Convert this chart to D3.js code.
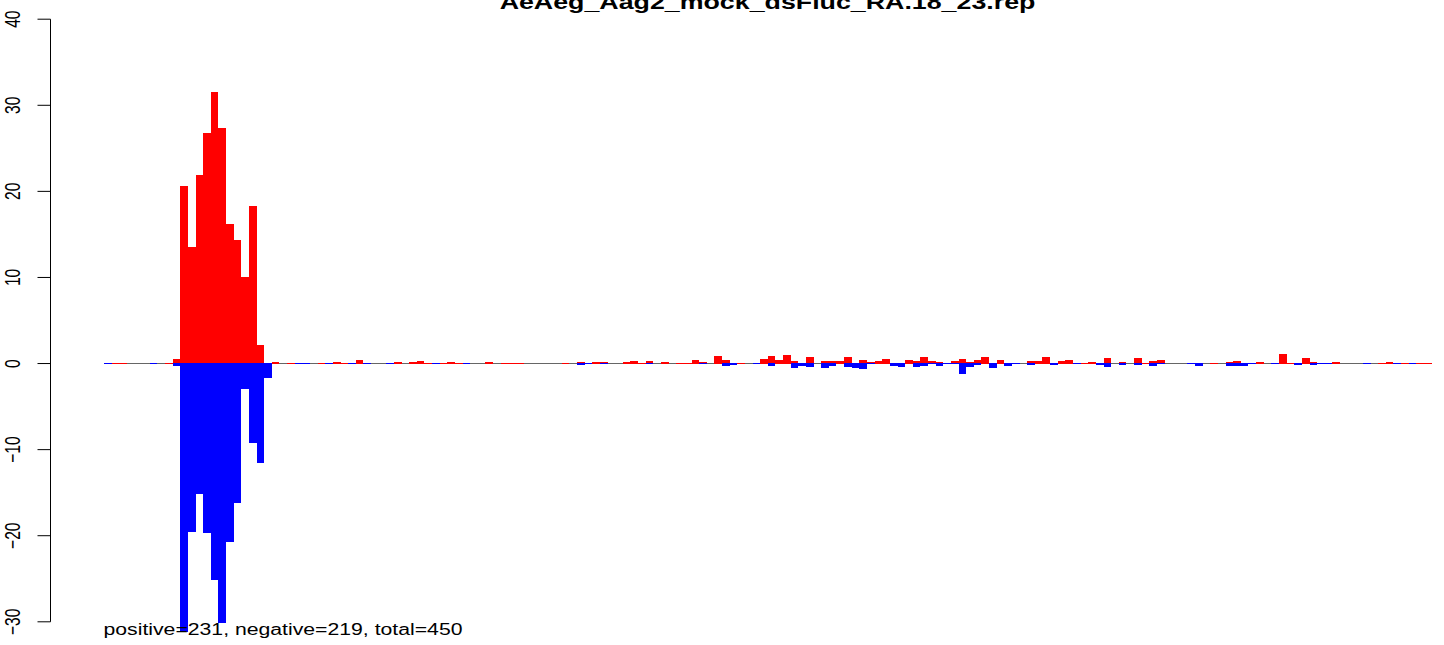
<!DOCTYPE html>
<html>
<head>
<meta charset="utf-8">
<script src="https://cdn.jsdelivr.net/npm/d3@7"></script>
<style>
  html, body { margin: 0; padding: 0; background: #fff; }
  svg { display: block; }
  text { font-family: "Liberation Sans", Arial, Helvetica, sans-serif; fill: #000; }
</style>
</head>
<body>
<svg id="chart" width="1444" height="645"></svg>
<script>
// ---- data ----
const title = "AeAeg_Aag2_mock_dsFluc_RA.18_23.rep";
const summary = "positive=231, negative=219, total=450";
const yTicks = [-30, -20, -10, 0, 10, 20, 30, 40];

const positive = [
  0,0.05,0.05,0,0,0,0,0,0.05,0.47,
  20.6,13.5,21.9,26.8,31.6,27.4,16.2,14.3,10.1,18.3,
  2.2,0,0.15,0,0.05,0,0,0,0.05,0,
  0.15,0.05,0,0.4,0,0,0,0,0.15,0,
  0.15,0.27,0.05,0,0.05,0.15,0.05,0,0,0,
  0.15,0,0.05,0.05,0.05,0,0,0,0,0,
  0.05,0,0.15,0,0.15,0.15,0,0,0.15,0.27,
  0.05,0.27,0,0.15,0,0.05,0.05,0.4,0.15,0,
  0.85,0.4,0.05,0.05,0,0,0.5,0.85,0.4,1.0,
  0.27,0.05,0.75,0,0.27,0.27,0.27,0.75,0.1,0.4,
  0.15,0.27,0.5,0.05,0,0.4,0.27,0.75,0.27,0.15,
  0,0.27,0.5,0.15,0.4,0.75,0,0.4,0,0,
  0,0.27,0.27,0.75,0.05,0.27,0.4,0,0.05,0.15,
  0,0.6,0,0.15,0,0.6,0.05,0.27,0.4,0,
  0,0,0,0,0,0.05,0,0.15,0.27,0,
  0,0.15,0,0,1.1,0.05,0,0.6,0.15,0,
  0,0.15,0,0,0,0,0,0.05,0.15,0,
  0.05,0,0.05,0.05
];

const negative = [
  -0.05,0,0,0,0,0,-0.05,0,0,-0.3,
  -31.2,-19.6,-15.2,-19.7,-25.1,-30.1,-20.7,-16.2,-3.0,-9.2,
  -11.5,-1.7,0,0,0,-0.05,-0.05,0,0,-0.05,
  0,0,-0.05,0,-0.05,0,0,-0.05,0,0,
  0,0,0,-0.05,0,0,0,-0.05,0,0,
  0,0,0,0,0,0,0,0,0,0,
  0,0,-0.2,-0.05,0,-0.08,0,0,0,0,
  0,-0.05,0,0,0,0,0,0,-0.05,0,
  0,-0.27,-0.2,0,0,-0.05,0,-0.27,0,0,
  -0.5,-0.27,-0.4,0,-0.5,-0.27,0,-0.4,-0.55,-0.65,
  -0.05,0,0,-0.27,-0.4,0,-0.4,-0.27,-0.05,-0.27,
  -0.1,-0.05,-1.25,-0.4,-0.2,0,-0.5,0,-0.27,-0.05,
  0,-0.2,0,0,-0.2,0,0,-0.05,0,0,
  -0.15,-0.4,0,-0.2,0,-0.2,0,-0.27,-0.05,0,
  0,0,-0.05,-0.27,0,0,0,-0.27,-0.27,-0.27,
  -0.05,0,0,-0.05,0,0,-0.15,0,-0.15,-0.05,
  -0.05,0,0,0,0,-0.05,0,0,0,-0.05,
  0,-0.05,0,0
];

const positions = d3.range(1, positive.length + 1);

// ---- layout ----
const svg = d3.select("#chart");
const sx = 1.36; // horizontal glyph stretch of the reference
const x = d3.scaleBand().domain(positions).range([104, 1431.6]).padding(0);
const y = d3.scaleLinear().domain([-30, 40]).range([621.8, 19.2]);
const y0 = y(0);            // ~363.5, centre of pixel row 363
const rowTop = Math.floor(y0); // baseline pixel row

// baseline
svg.append("line")
  .attr("x1", x.range()[0]).attr("x2", x.range()[1])
  .attr("y1", rowTop + 0.5).attr("y2", rowTop + 0.5)
  .attr("stroke", "#666").attr("stroke-width", 1);

const gBars = svg.append("g").attr("shape-rendering", "crispEdges");

gBars.selectAll("rect.pos")
  .data(positions.map((p, i) => ({p, v: positive[i]})).filter(d => d.v > 0))
  .join("rect").attr("class", "pos")
  .attr("x", d => x(d.p)).attr("width", x.bandwidth())
  .attr("y", d => Math.min(y(d.v), rowTop))
  .attr("height", d => Math.max(rowTop + 1 - y(d.v), 1))
  .attr("fill", "#ff0000");

gBars.selectAll("rect.neg")
  .data(positions.map((p, i) => ({p, v: negative[i]})).filter(d => d.v < 0))
  .join("rect").attr("class", "neg")
  .attr("x", d => x(d.p)).attr("width", x.bandwidth())
  .attr("y", rowTop)
  .attr("height", d => Math.max(y(d.v) - rowTop, 1))
  .attr("fill", "#0000ff");

// y axis
const axisX = 50.5;
const gAxis = svg.append("g");
gAxis.append("line")
  .attr("x1", axisX).attr("x2", axisX)
  .attr("y1", y(yTicks[0])).attr("y2", y(yTicks[yTicks.length - 1]))
  .attr("stroke", "#000").attr("stroke-width", 1);
gAxis.selectAll("line.tick").data(yTicks).join("line").attr("class", "tick")
  .attr("x1", axisX - 13).attr("x2", axisX)
  .attr("y1", d => y(d)).attr("y2", d => y(d))
  .attr("stroke", "#000").attr("stroke-width", 1);
gAxis.selectAll("text").data(yTicks).join("text")
  .attr("transform", d => `translate(20,${y(d)}) scale(${sx},1) rotate(-90)`)
  .attr("text-anchor", "middle")
  .style("font-size", "15.6px")
  .text(d => d < 0 ? "\u2212" + Math.abs(d) : String(d));

// title (cut off at the top edge, as in the reference)
svg.append("text")
  .attr("transform", `translate(767.5,9) scale(${sx},1)`)
  .attr("text-anchor", "middle")
  .style("font-size", "19.7px").style("font-weight", "bold")
  .text(title);

// summary
svg.append("text")
  .attr("transform", `translate(103.5,635) scale(${sx},1)`)
  .style("font-size", "15.6px")
  .text(summary);
</script>
</body>
</html>
